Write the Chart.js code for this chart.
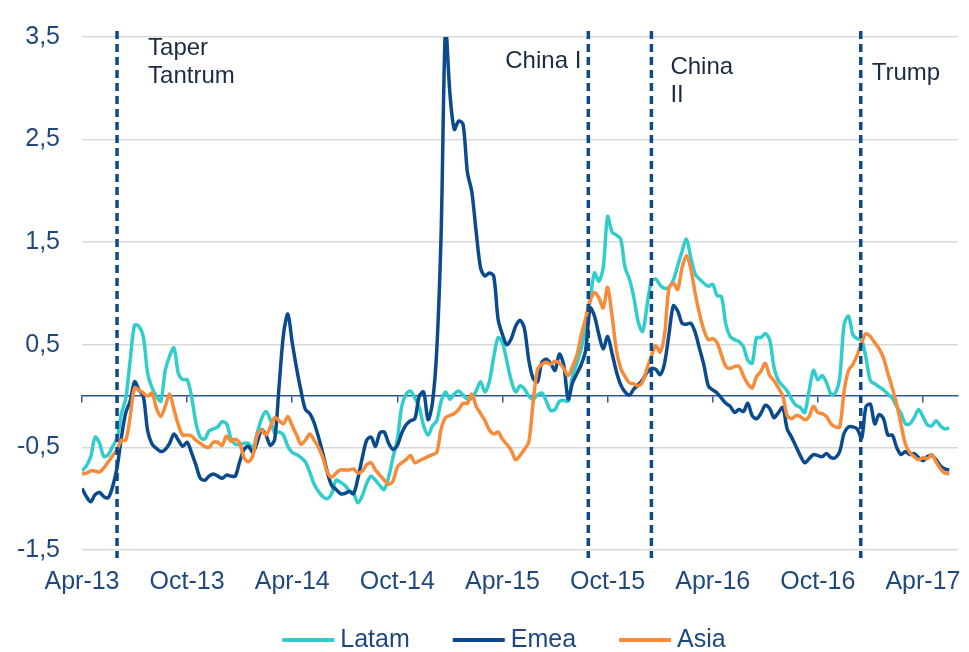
<!DOCTYPE html>
<html>
<head>
<meta charset="utf-8">
<script src="https://cdn.jsdelivr.net/npm/chart.js@4.4.1/dist/chart.umd.min.js"></script>
<style>
  html, body { margin: 0; padding: 0; background: #fff; }
  #wrap { width: 969px; height: 652px; }
</style>
</head>
<body>
<div id="wrap"><canvas id="chart" width="969" height="652"></canvas></div>
<script>
// x = months since Apr-13, one reading every quarter month
const stepMonths = 0.25;
const tickMonths = [0, 6, 12, 18, 24, 30, 36, 42, 48];
const tickLabels = ['Apr-13', 'Oct-13', 'Apr-14', 'Oct-14', 'Apr-15', 'Oct-15', 'Apr-16', 'Oct-16', 'Apr-17'];
const yTicks = [-1.5, -0.5, 0.5, 1.5, 2.5, 3.5];
const yLabels = ['-1,5', '-0,5', '0,5', '1,5', '2,5', '3,5'];

const latam = [
  -0.73, -0.68, -0.59, -0.40, -0.46, -0.59, -0.57, -0.49, -0.41, -0.17,
  -0.02, 0.35, 0.69, 0.68, 0.58, 0.22, 0.08, 0.00, -0.05, 0.25,
  0.39, 0.47, 0.22, 0.16, 0.16, 0.00, -0.26, -0.40, -0.42, -0.34,
  -0.32, -0.30, -0.25, -0.27, -0.41, -0.47, -0.47, -0.46, -0.46, -0.51,
  -0.36, -0.22, -0.15, -0.23, -0.36, -0.35, -0.38, -0.49, -0.55, -0.57,
  -0.60, -0.64, -0.74, -0.86, -0.93, -0.98, -1.00, -0.95, -0.82, -0.84,
  -0.87, -0.92, -0.95, -1.04, -0.97, -0.85, -0.78, -0.82, -0.87, -0.91,
  -0.79, -0.60, -0.42, -0.10, 0.02, 0.05, -0.02, -0.11, -0.29, -0.38,
  -0.29, -0.24, -0.05, 0.04, -0.03, 0.02, 0.05, 0.01, -0.03, -0.02,
  0.05, 0.14, 0.04, 0.14, 0.38, 0.57, 0.52, 0.34, 0.15, 0.04,
  0.10, 0.07, 0.00, -0.03, 0.01, 0.03, -0.05, -0.14, -0.13, -0.05,
  -0.04, -0.05, 0.20, 0.32, 0.47, 0.66, 0.93, 1.20, 1.12, 1.25,
  1.75, 1.60, 1.57, 1.53, 1.25, 1.14, 0.96, 0.72, 0.63, 0.88,
  1.12, 1.14, 1.08, 1.05, 1.06, 1.13, 1.27, 1.41, 1.53, 1.35,
  1.19, 1.14, 1.10, 1.07, 1.09, 0.98, 0.97, 0.70, 0.58, 0.55,
  0.53, 0.48, 0.35, 0.32, 0.57, 0.57, 0.61, 0.55, 0.28, 0.15,
  0.10, 0.05, -0.03, -0.09, -0.11, -0.16, 0.05, 0.25, 0.16, 0.20,
  0.13, 0.02, 0.03, 0.18, 0.70, 0.78, 0.60, 0.56, 0.55, 0.37,
  0.15, 0.12, 0.09, 0.06, 0.02, -0.02, -0.10, -0.17, -0.27, -0.27,
  -0.21, -0.13, -0.20, -0.28, -0.29, -0.24, -0.29, -0.32, -0.31
];

const emea = [
  -0.90, -0.98, -1.03, -0.96, -0.94, -0.98, -0.99, -0.88, -0.70, -0.40,
  -0.16, -0.05, 0.14, 0.06, 0.00, -0.34, -0.47, -0.51, -0.54, -0.52,
  -0.46, -0.37, -0.43, -0.49, -0.45, -0.55, -0.67, -0.80, -0.82, -0.78,
  -0.76, -0.78, -0.80, -0.77, -0.78, -0.78, -0.64, -0.52, -0.49, -0.55,
  -0.45, -0.33, -0.38, -0.48, -0.42, 0.10, 0.60, 0.80, 0.52, 0.27,
  0.05, -0.13, -0.17, -0.26, -0.40, -0.56, -0.74, -0.87, -0.91, -0.95,
  -0.95, -0.93, -0.95, -0.80, -0.60, -0.43, -0.40, -0.49, -0.36, -0.35,
  -0.46, -0.52, -0.48, -0.36, -0.28, -0.24, -0.22, 0.00, 0.04, -0.23,
  -0.07, 0.45, 1.60, 3.60, 2.95, 2.60, 2.68, 2.65, 2.18, 1.99,
  1.60, 1.25, 1.17, 1.20, 1.17, 0.75, 0.60, 0.50, 0.56, 0.68,
  0.74, 0.66, 0.35, 0.17, 0.14, 0.33, 0.36, 0.32, 0.25, 0.41,
  0.30, -0.03, 0.13, 0.22, 0.31, 0.45, 0.86, 0.78, 0.60, 0.46,
  0.58, 0.42, 0.24, 0.11, 0.04, 0.01, 0.07, 0.11, 0.16, 0.23,
  0.27, 0.26, 0.21, 0.32, 0.60, 0.88, 0.83, 0.71, 0.70, 0.71,
  0.62, 0.46, 0.30, 0.10, 0.06, 0.03, -0.02, -0.07, -0.10, -0.16,
  -0.13, -0.15, -0.07, -0.19, -0.22, -0.17, -0.09, -0.12, -0.21, -0.16,
  -0.11, -0.32, -0.40, -0.49, -0.58, -0.65, -0.61, -0.57, -0.58, -0.59,
  -0.56, -0.60, -0.60, -0.54, -0.36, -0.30, -0.30, -0.32, -0.41, -0.10,
  -0.08, -0.27, -0.18, -0.22, -0.38, -0.38, -0.50, -0.57, -0.54, -0.57,
  -0.56, -0.60, -0.63, -0.59, -0.58, -0.62, -0.68, -0.71, -0.72
];

const asia = [
  -0.76, -0.75, -0.73, -0.73, -0.74, -0.70, -0.64, -0.58, -0.52, -0.43,
  -0.43, -0.20, 0.08, 0.06, 0.03, 0.00, 0.03, -0.12, -0.20, -0.10,
  0.02, -0.13, -0.28, -0.38, -0.38, -0.39, -0.43, -0.46, -0.49, -0.50,
  -0.45, -0.45, -0.48, -0.39, -0.44, -0.42, -0.46, -0.60, -0.64, -0.58,
  -0.38, -0.33, -0.38, -0.30, -0.21, -0.24, -0.27, -0.20, -0.29, -0.38,
  -0.47, -0.43, -0.37, -0.43, -0.50, -0.60, -0.74, -0.79, -0.75, -0.72,
  -0.72, -0.72, -0.71, -0.75, -0.73, -0.67, -0.65, -0.72, -0.77, -0.82,
  -0.86, -0.83, -0.69, -0.65, -0.62, -0.58, -0.65, -0.63, -0.61, -0.59,
  -0.57, -0.55, -0.32, -0.21, -0.19, -0.17, -0.13, -0.07, -0.07, 0.02,
  -0.10, -0.17, -0.24, -0.33, -0.37, -0.35, -0.42, -0.47, -0.53, -0.62,
  -0.58, -0.52, -0.45, -0.06, 0.26, 0.31, 0.33, 0.31, 0.34, 0.32,
  0.27, 0.20, 0.29, 0.40, 0.60, 0.76, 0.93, 1.01, 0.96, 0.86,
  1.06, 0.79, 0.45, 0.27, 0.19, 0.13, 0.12, 0.10, 0.14, 0.27,
  0.39, 0.49, 0.43, 0.60, 1.05, 1.10, 1.04, 1.25, 1.37, 1.24,
  1.00, 0.80, 0.64, 0.55, 0.56, 0.52, 0.40, 0.29, 0.27, 0.29,
  0.29, 0.20, 0.12, 0.08, 0.19, 0.24, 0.32, 0.20, 0.15, 0.08,
  0.00, -0.19, -0.22, -0.19, -0.20, -0.23, -0.20, -0.10, -0.16, -0.17,
  -0.20, -0.27, -0.30, -0.30, 0.05, 0.25, 0.31, 0.40, 0.52, 0.61,
  0.58, 0.52, 0.46, 0.37, 0.22, 0.08, -0.08, -0.28, -0.47, -0.55,
  -0.59, -0.62, -0.60, -0.61, -0.57, -0.64, -0.71, -0.75, -0.76
];

// events (months since Apr-13) and their notes
const eventMonths = [2.0, 28.9, 32.5, 44.45];
const eventNotes = [['Taper', 'Tantrum'], ['China I'], ['China', 'II'], ['Trump']];

const FONT = '"Liberation Sans", Arial, sans-serif';
const AXIS_COLOR = '#1f497d';

// where each note sits next to its line
const noteStyle = [
  { dx: 31, y: 55, align: 'left' },
  { dx: -7, y: 68, align: 'right' },
  { dx: 19, y: 74, align: 'left' },
  { dx: 11, y: 80, align: 'left' }
];

const eventLines = {
  id: 'eventLines',
  afterDatasetsDraw(chart) {
    const { ctx, chartArea, scales: { x } } = chart;
    ctx.save();
    eventMonths.forEach((m, i) => {
      const px = x.getPixelForValue(m);
      ctx.strokeStyle = '#0d4a8a';
      ctx.lineWidth = 3.5;
      ctx.setLineDash([8, 5]);
      ctx.beginPath();
      ctx.moveTo(px, chartArea.top - 6);
      ctx.lineTo(px, chartArea.bottom + 8);
      ctx.stroke();

      ctx.setLineDash([]);
      ctx.fillStyle = '#1a2b44';
      ctx.font = '24px ' + FONT;
      ctx.textAlign = noteStyle[i].align;
      ctx.textBaseline = 'alphabetic';
      eventNotes[i].forEach((line, j) => {
        ctx.fillText(line, px + noteStyle[i].dx, noteStyle[i].y + j * 28);
      });
    });
    ctx.restore();
  }
};

// legend row under the axis: short line, then the name
const legendRow = {
  id: 'legendRow',
  afterDraw(chart) {
    const { ctx } = chart;
    const y = 640, swatch = 52, gap = 6, spacing = 43, centre = 504;
    ctx.save();
    ctx.font = '25px ' + FONT;
    ctx.textBaseline = 'middle';
    ctx.textAlign = 'left';
    const items = chart.data.datasets.map(d => ({ text: d.label, color: d.borderColor, w: ctx.measureText(d.label).width }));
    const total = items.reduce((s, it) => s + swatch + gap + it.w, 0) + spacing * (items.length - 1);
    let x = centre - total / 2;
    items.forEach(it => {
      ctx.strokeStyle = it.color;
      ctx.lineWidth = 4;
      ctx.beginPath();
      ctx.moveTo(x, y);
      ctx.lineTo(x + swatch, y);
      ctx.stroke();
      ctx.fillStyle = AXIS_COLOR;
      ctx.fillText(it.text, x + swatch + gap, y);
      x += swatch + gap + it.w + spacing;
    });
    ctx.restore();
  }
};

const toPoints = arr => arr.map((v, i) => ({ x: i * stepMonths, y: v }));
const setTicks = values => scale => { scale.ticks = values.map(v => ({ value: v })); };

new Chart(document.getElementById('chart'), {
  type: 'line',
  data: {
    datasets: [
      { label: 'Latam', data: toPoints(latam), borderColor: '#33cccc', order: 3 },
      { label: 'Emea', data: toPoints(emea), borderColor: '#0b4a8c', order: 2 },
      { label: 'Asia', data: toPoints(asia), borderColor: '#f68b3a', order: 1 }
    ]
  },
  options: {
    responsive: false,
    animation: false,
    devicePixelRatio: 1,
    elements: {
      line: { borderWidth: 3.5, tension: 0.3 },
      point: { radius: 0, hoverRadius: 0 }
    },
    layout: { padding: { left: 0, right: 11, top: 22, bottom: 0 } },
    plugins: {
      legend: { display: false },
      tooltip: { enabled: false }
    },
    scales: {
      x: {
        type: 'linear',
        min: 0,
        max: 50,
        afterBuildTicks: setTicks(tickMonths),
        afterFit: s => { s.height = 102; s.paddingLeft = 0; s.paddingRight = 0; },
        grid: { display: false, drawTicks: false },
        border: { display: false },
        ticks: {
          padding: 17,
          color: AXIS_COLOR,
          font: { size: 25, family: FONT },
          maxRotation: 0,
          autoSkip: false,
          callback: v => tickLabels[tickMonths.indexOf(v)]
        }
      },
      // zero line with the small tick marks
      x0: {
        type: 'linear',
        position: { y: 0 },
        min: 0,
        max: 50,
        afterBuildTicks: setTicks(tickMonths),
        grid: { drawOnChartArea: false, color: '#2f5597', lineWidth: 1.5, tickLength: 6 },
        border: { color: '#2f5597', width: 1.5 },
        ticks: { display: false }
      },
      y: {
        min: -1.5,
        max: 3.5,
        afterBuildTicks: setTicks(yTicks),
        afterFit: s => { s.width = 82; },
        grid: { color: '#d9d9d9', lineWidth: 1.5, drawTicks: false },
        border: { display: false },
        ticks: {
          padding: 22,
          color: AXIS_COLOR,
          font: { size: 25, family: FONT },
          callback: v => yLabels[yTicks.indexOf(v)]
        }
      }
    }
  },
  plugins: [eventLines, legendRow]
});
</script>
</body>
</html>
